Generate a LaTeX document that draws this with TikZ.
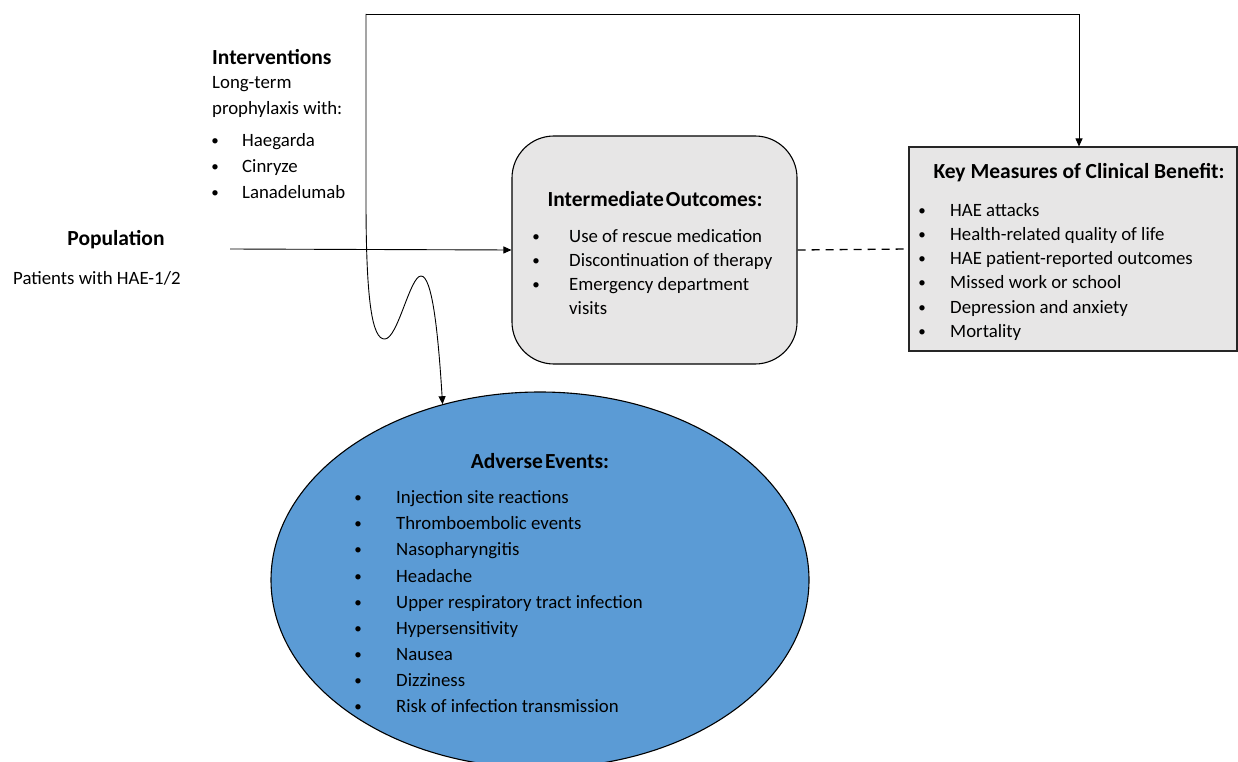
\documentclass[tikz,border=0pt]{standalone}
\usepackage{fontspec}
\setmainfont{Carlito}
\usetikzlibrary{arrows.meta,shapes.geometric,calc}
\definecolor{boxgray}{RGB}{231,230,230}
\definecolor{aeblue}{RGB}{91,155,213}
\tikzset{
  txt/.style={anchor=mid west,inner sep=0pt,yshift=-3.5pt,font=\fontsize{18.8}{22}\selectfont},
  ttl/.style={inner sep=0pt,yshift=-2pt,font=\fontsize{21.5}{25}\selectfont\bfseries},
  bul/.style={anchor=mid,inner sep=0pt,yshift=-2pt,font=\fontsize{15}{18}\selectfont},
  conn/.style={line width=0.9pt,-{Triangle[length=8pt,width=7pt]}},
}
\begin{document}
\begin{tikzpicture}[x=1pt,y=-1pt]
\useasboundingbox (0,0) rectangle (1238,762);
\begin{scope}
\clip (0,0) rectangle (1238,762);
% shapes
\node[draw,line width=1.1pt,fill=boxgray,rounded corners=42pt,minimum width=285pt,minimum height=228pt,inner sep=0pt] (io) at (654.5,250) {};
\node[draw=black!85,line width=1.1pt,fill=boxgray,minimum width=328pt,minimum height=204pt,inner sep=0pt] (km) at (1073,249) {};
\node[draw,line width=1.1pt,fill=aeblue,ellipse,minimum width=538pt,minimum height=376pt,inner sep=0pt] (ae) at (540,580) {};
\end{scope}

% Interventions
\node[ttl,anchor=mid west,yshift=-3pt] (intT) at (212,57) {Interventions};
\node[txt] (int1) at (212,83) {Long-term};
\node[txt] (int2) at (212,109) {prophylaxis with:};
\foreach \y/\t [count=\i] in {141/Haegarda,167/Cinryze,193/Lanadelumab}{
  \node[bul] (intb\i) at (215,\y) {•};
  \node[txt] (inti\i) at (242,\y) {\t};
}

% Population
\node[ttl] (popT) at (116,238) {Population};
\node[txt] (pop1) at (13,279) {Patients with HAE-1/2};
\coordinate (popEnd) at (230,249);

% Intermediate outcomes
\node[ttl] (ioT) at (655,197) {Intermediate\hspace{0.1em}Outcomes:};
\foreach \y/\t [count=\i] in {237/Use of rescue medication,261/Discontinuation of therapy,285/Emergency department}{
  \node[bul] (iob\i) at (536,\y) {•};
  \node[txt] (ioi\i) at (569,\y) {\t};
}
\node[txt] (ioi4) at (569,309) {visits};

% Key measures
\node[ttl] (kmT) at (1079,171) {Key Measures of Clinical Benefit:};
\foreach \y/\t [count=\i] in {211/HAE attacks,235/Health-related quality of life,259/HAE patient-reported outcomes,283/Missed work or school,308/Depression and anxiety,332/Mortality}{
  \node[bul] (kmb\i) at (922,\y) {•};
  \node[txt] (kmi\i) at (950,\y) {\t};
}

% Adverse events
\node[ttl] (aeT) at (540,459) {Adverse\hspace{0.1em}Events:};
\foreach \y/\t [count=\i] in {498/Injection site reactions,524/Thromboembolic events,550/Nasopharyngitis,577/Headache,603/Upper respiratory tract infection,629/Hypersensitivity,655/Nausea,681/Dizziness,707/Risk of infection transmission}{
  \node[bul] (aeb\i) at (358,\y) {•};
  \node[txt] (aei\i) at (396,\y) {\t};
}

% connectors
\coordinate (top) at (366,14);
\draw[conn] (popEnd) -- (io.west);
\draw[line width=1.3pt,dash pattern=on 8pt off 6pt] (io.east) -- (km.west);
\draw[conn] (top) -| ([xshift=6pt]km.north);
\draw[conn] (top) -- (366,200) .. controls (366,300) and (372,340) .. (385,339)
  .. controls (398,338) and (410,276) .. (421,276)
  .. controls (432,276) and (438,330) .. (ae.119);
\end{tikzpicture}
\end{document}
